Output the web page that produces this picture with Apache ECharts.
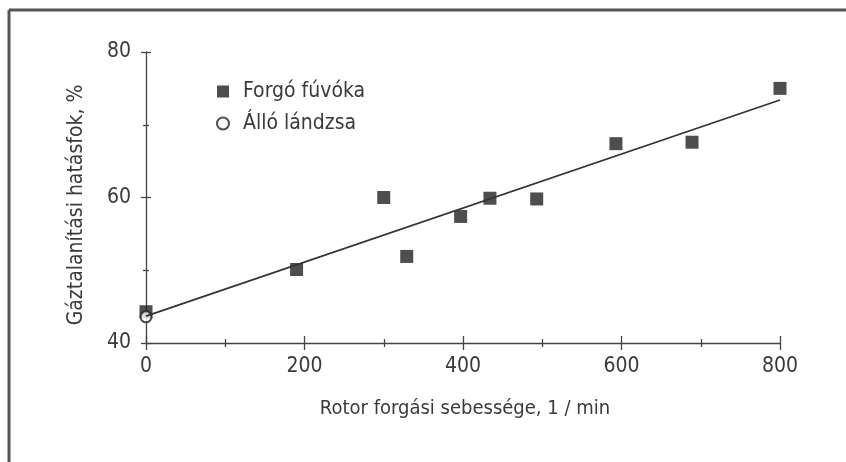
<!DOCTYPE html>
<html>
<head>
<meta charset="utf-8">
<script src="https://cdn.jsdelivr.net/npm/echarts@6/dist/echarts.min.js"></script>
<style>
  html, body { margin: 0; padding: 0; background: #fff; }
  #chart { width: 846px; height: 462px; }
</style>
</head>
<body>
<div id="chart"></div>
<script>
// Forgó fúvóka (rotating nozzle) measurements
const rotorSpeed = [0, 190, 300, 329, 397, 434, 493, 593, 689, 800]
const rotorEff = [44.3, 50.1, 60.0, 51.9, 57.4, 59.9, 59.8, 67.4, 67.6, 75.0]
// Álló lándzsa (fixed lance)
const lanceSpeed = [0]
const lanceEff = [43.6]
// fitted trend line end points
const fitSpeed = [0, 800]
const fitEff = [43.7, 73.4]

const yTicks = [40, 60, 80]
const xTicks = [0, 200, 400, 600, 800]

const font = '"DejaVu Sans Condensed", "Liberation Sans Narrow", Arial, sans-serif'
const ink = '#3a3a3a'
const axisColor = '#444'

const chart = echarts.init(document.getElementById('chart'), null, { renderer: 'canvas' })

const zip = (xs, ys) => xs.map((x, i) => [x, ys[i]])

const tickStyle = { color: axisColor, width: 1.3 }

const baseX = {
  type: 'value',
  position: 'bottom',
  min: xTicks[0],
  max: xTicks[xTicks.length - 1],
  interval: 200,
  splitLine: { show: false },
}
const baseY = {
  type: 'value',
  position: 'left',
  min: yTicks[0],
  max: yTicks[yTicks.length - 1],
  interval: 20,
  splitLine: { show: false },
}

const option = {
  animation: false,
  backgroundColor: '#fff',
  grid: { left: 146, right: 66, top: 52, bottom: 119 },
  xAxis: [
    {
      ...baseX,
      axisLine: { lineStyle: tickStyle },
      axisTick: { length: 7, lineStyle: tickStyle },
      minorTick: { show: true, splitNumber: 2, length: 4, lineStyle: tickStyle },
      axisLabel: { margin: 13, color: ink, fontFamily: font, fontSize: 21 },
    },
    {
      ...baseX,
      axisLine: { show: false },
      axisTick: { inside: true, length: 7, lineStyle: tickStyle },
      minorTick: { show: true, splitNumber: 2, length: 4, lineStyle: tickStyle },
      axisLabel: { show: false },
    },
  ],
  yAxis: [
    {
      ...baseY,
      axisLine: { show: true, lineStyle: tickStyle },
      axisTick: { show: true, length: 5, lineStyle: tickStyle },
      minorTick: { show: true, splitNumber: 2, length: 3, lineStyle: tickStyle },
      axisLabel: { margin: 15, color: ink, fontFamily: font, fontSize: 21 },
    },
    {
      ...baseY,
      axisLine: { show: false },
      axisTick: { show: true, inside: true, length: 5, lineStyle: tickStyle },
      minorTick: { show: true, splitNumber: 2, length: 3, lineStyle: tickStyle },
      axisLabel: { show: false },
    },
  ],
  legend: {
    orient: 'vertical',
    left: 211,
    top: 76,
    itemWidth: 12,
    itemHeight: 12,
    itemGap: 11,
    textStyle: { color: ink, fontFamily: font, fontSize: 21, padding: [0, 0, 0, 9] },
    data: [
      { name: 'Forgó fúvóka', icon: 'rect', itemStyle: { color: '#222' } },
      { name: 'Álló lándzsa', icon: 'circle', itemStyle: { color: '#fff', borderColor: '#222', borderWidth: 2 } },
    ],
  },
  graphic: [
    // frame
    { type: 'line', shape: { x1: 9, y1: 10, x2: 846, y2: 10 }, style: { stroke: '#555', lineWidth: 3 } },
    { type: 'line', shape: { x1: 9, y1: 10, x2: 9, y2: 462 }, style: { stroke: '#555', lineWidth: 3 } },
    {
      type: 'text',
      x: 465,
      y: 409,
      style: { text: 'Rotor forgási sebessége, 1 / min', fill: ink, font: '20px ' + font, textAlign: 'center', textVerticalAlign: 'middle' },
    },
    {
      type: 'text',
      x: 77,
      y: 205,
      rotation: Math.PI / 2,
      style: { text: 'Gáztalanítási hatásfok, %', fill: ink, font: '21px ' + font, textAlign: 'center', textVerticalAlign: 'middle' },
    },
  ],
  series: [
    {
      name: 'trend',
      type: 'line',
      data: zip(fitSpeed, fitEff),
      showSymbol: false,
      lineStyle: { color: '#333', width: 1.8 },
      silent: true,
    },
    {
      name: 'Forgó fúvóka',
      type: 'scatter',
      symbol: 'rect',
      symbolSize: 13,
      data: zip(rotorSpeed, rotorEff),
      itemStyle: { color: '#222' },
    },
    {
      name: 'Álló lándzsa',
      type: 'scatter',
      symbol: 'circle',
      symbolSize: 11,
      data: zip(lanceSpeed, lanceEff),
      itemStyle: { color: '#fff', borderColor: '#222', borderWidth: 2 },
    },
  ],
}

chart.setOption(option)
</script>
</body>
</html>
